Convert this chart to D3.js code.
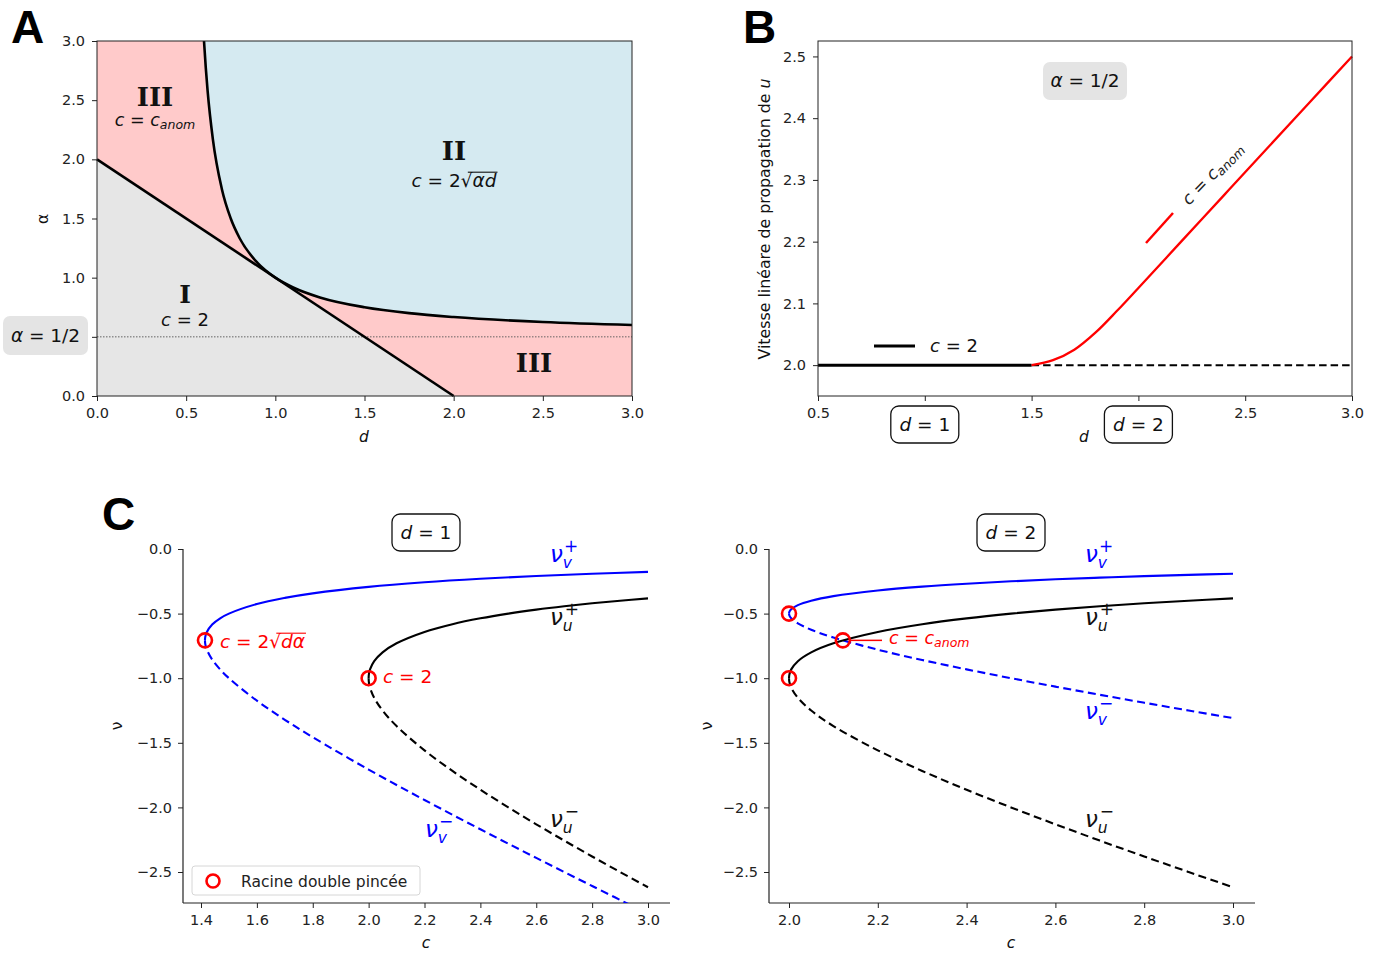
<!DOCTYPE html>
<html><head><meta charset="utf-8">
<script src="https://cdn.jsdelivr.net/npm/d3@7"></script>
<style>
body{margin:0;background:#fff}
svg text{white-space:pre}
</style>
</head><body>
<svg id="fig" width="1380" height="953" font-family="DejaVu Sans"></svg>
<script>
// ---------------- DATA ----------------
// Panel A : phase diagram (d, alpha)
const axisATicks = [0, 0.5, 1.0, 1.5, 2.0, 2.5, 3.0];
const axisAYLabels = ["0.0", "", "1.0", "1.5", "2.0", "2.5", "3.0"];
const lineBoundaryD = [0, 2];
const lineBoundaryAlpha = [2, 0];
const hyperD = [0.6, 0.61, 0.62, 0.65, 0.7, 0.75, 0.8, 0.9, 1.0, 1.1, 1.25, 1.5, 1.75, 2.0, 2.5, 3.0];
const hyperAlpha = [3.0, 2.773, 2.583, 2.167, 1.75, 1.5, 1.333, 1.125, 1.0, 0.917, 0.833, 0.75, 0.7, 0.667, 0.625, 0.6];
const alphaRef = 0.5;

// Panel B : linear spreading speed vs d
const bXTicks = [0.5, 1.0, 1.5, 2.0, 2.5, 3.0];
const bXTickLabels = ["0.5", "", "1.5", "", "2.5", "3.0"];
const bYTicks = [2.0, 2.1, 2.2, 2.3, 2.4, 2.5];
const cTwoSolidD = [0.5, 1.5];
const cTwoDashedD = [1.5, 3.0];
const cTwoValue = 2.0;
const canomD = [1.5, 1.6, 1.7, 1.8, 1.9, 2.0, 2.2, 2.4, 2.6, 2.8, 3.0];
const canomC = [2.0, 2.008, 2.025, 2.053, 2.088, 2.125, 2.2, 2.275, 2.35, 2.425, 2.5];

// Panel C : roots nu vs c
const cLeftTicks = [1.4, 1.6, 1.8, 2.0, 2.2, 2.4, 2.6, 2.8, 3.0];
const cRightTicks = [2.0, 2.2, 2.4, 2.6, 2.8, 3.0];
const nuTicks = [0.0, -0.5, -1.0, -1.5, -2.0, -2.5];
const cU = [2.0, 2.001, 2.005, 2.02, 2.05, 2.1, 2.2, 2.3, 2.4, 2.5, 2.6, 2.7, 2.8, 2.9, 3.0];
const nuUPlus  = [-1.0, -0.9689, -0.9318, -0.8682, -0.8, -0.7298, -0.6417, -0.5821, -0.5367, -0.5, -0.4693, -0.4431, -0.4202, -0.4, -0.382];
const nuUMinus = [-1.0, -1.0321, -1.0733, -1.1518, -1.25, -1.3702, -1.5583, -1.7179, -1.8633, -2.0, -2.1307, -2.2569, -2.3798, -2.5, -2.618];
const cV1 = [1.4142, 1.4152, 1.42, 1.44, 1.47, 1.5, 1.6, 1.7, 1.8, 2.0, 2.2, 2.4, 2.6, 2.8, 3.0];
const nuV1Plus  = [-0.7071, -0.6812, -0.646, -0.5844, -0.5345, -0.5, -0.4258, -0.3783, -0.3432, -0.2929, -0.2574, -0.2305, -0.2091, -0.1917, -0.1771];
const nuV1Minus = [-0.7071, -0.734, -0.7741, -0.8557, -0.9356, -1.0, -1.1742, -1.3217, -1.4568, -1.7071, -1.9426, -2.1695, -2.3909, -2.6083, -2.8229];
const nuV2Plus  = [-0.5, -0.4845, -0.4659, -0.4341, -0.4, -0.3649, -0.3209, -0.2911, -0.2684, -0.25, -0.2347, -0.2216, -0.2101, -0.2, -0.191];
const nuV2Minus = [-0.5, -0.5161, -0.5367, -0.5759, -0.625, -0.6851, -0.7792, -0.859, -0.9317, -1.0, -1.0654, -1.1285, -1.1899, -1.25, -1.309];
const pinchLeftC = [1.4142, 2.0];
const pinchLeftNu = [-0.7071, -1.0];
const pinchRightC = [2.0, 2.0, 2.1213];
const pinchRightNu = [-0.5, -1.0, -0.7071];

// ---------------- HELPERS ----------------
const svg = d3.select("#fig");
const zip = (a, b) => a.map((v, i) => [v, b[i]]);

function rich(parent, x, y, parts, o = {}) {
  const t = parent.append("text").attr("x", x).attr("y", y)
    .attr("font-size", o.size || 16).attr("fill", o.fill || "#111")
    .attr("text-anchor", o.anchor || "start")
    .style("font-family", o.family || "'DejaVu Sans', sans-serif");
  if (o.weight) t.style("font-weight", o.weight);
  if (o.rotate != null) t.attr("transform", `rotate(${o.rotate},${x},${y})`);
  let idx = 0; const ov = [];
  parts.forEach(p => {
    const s = t.append("tspan").text(p.t);
    if (p.i) s.style("font-style", "italic");
    if (p.s) s.attr("font-size", p.s);
    if (p.dx != null) s.attr("dx", p.dx);
    if (p.dy != null) s.attr("dy", p.dy);
    if (p.ov) ov.push([idx, idx + p.t.length - 1]);
    idx += p.t.length;
  });
  ov.forEach(([a, b]) => {
    const n = t.node();
    const x0 = n.getStartPositionOfChar(a - 1).x + 0.6 * (n.getEndPositionOfChar(a - 1).x - n.getStartPositionOfChar(a - 1).x);
    const x1 = n.getEndPositionOfChar(b).x + 1;
    const sz = o.size || 16;
    parent.append("line").attr("x1", x0).attr("x2", x1)
      .attr("y1", y - 0.8 * sz).attr("y2", y - 0.8 * sz)
      .attr("stroke", o.fill || "#111").attr("stroke-width", 1.1);
  });
  return t;
}

function styleAxis(g, fs) {
  g.selectAll(".domain").remove();
  g.selectAll(".tick line").attr("stroke", "#222").attr("stroke-width", 1);
  g.selectAll(".tick text").attr("font-size", fs || 14.5).attr("fill", "#222")
    .style("font-family", "'DejaVu Sans', sans-serif");
}

function nuLabel(parent, x, y, sub, sup, color) {
  rich(parent, x, y, [
    { t: "ν", i: 1 },
    { t: sub, i: 1, s: 15.5, dy: 6 },
    { t: sup, s: 17, dx: -8, dy: -16 }
  ], { size: 23, fill: color });
}

// ---------------- PANEL A ----------------
const xA = d3.scaleLinear().domain([0, 3]).range([97, 632]);
const yA = d3.scaleLinear().domain([0, 3]).range([396, 41]);
const gA = svg.append("g");
const lineA = d3.line().x(d => xA(d[0])).y(d => yA(d[1]));

gA.append("rect").attr("x", xA(0)).attr("y", yA(3)).attr("width", xA(3) - xA(0)).attr("height", yA(0) - yA(3))
  .attr("fill", "#ffcaca");
const hyperPts = zip(hyperD, hyperAlpha);
gA.append("path").attr("d", d3.line().x(d => xA(d[0])).y(d => yA(d[1])).curve(d3.curveMonotoneX)([...hyperPts, [3, 3]]) + `L${xA(hyperD[0])},${yA(3)}Z`)
  .attr("fill", "#d5eaf1");
gA.append("path").attr("d", lineA([...zip(lineBoundaryD, lineBoundaryAlpha), [0, 0]]) + "Z")
  .attr("fill", "#e6e6e6");
gA.append("line").attr("x1", xA(0)).attr("x2", xA(3)).attr("y1", yA(alphaRef)).attr("y2", yA(alphaRef))
  .attr("stroke", "#555").attr("stroke-width", 0.9).attr("stroke-dasharray", "1.5,1.5");
gA.append("path").attr("d", lineA(zip(lineBoundaryD, lineBoundaryAlpha)))
  .attr("fill", "none").attr("stroke", "#000").attr("stroke-width", 2.6);
gA.append("path").attr("d", d3.line().x(d => xA(d[0])).y(d => yA(d[1])).curve(d3.curveMonotoneX)(hyperPts))
  .attr("fill", "none").attr("stroke", "#000").attr("stroke-width", 2.6);
gA.append("rect").attr("x", xA(0)).attr("y", yA(3)).attr("width", xA(3) - xA(0)).attr("height", yA(0) - yA(3))
  .attr("fill", "none").attr("stroke", "#222").attr("stroke-width", 1);

styleAxis(gA.append("g").attr("transform", `translate(0,${yA(0)})`)
  .call(d3.axisBottom(xA).tickValues(axisATicks).tickFormat(d3.format(".1f")).tickSize(5).tickPadding(7)));
styleAxis(gA.append("g").attr("transform", `translate(${xA(0)},0)`)
  .call(d3.axisLeft(yA).tickValues(axisATicks).tickFormat((d, i) => axisAYLabels[i]).tickSize(5).tickPadding(7)));

rich(gA, 364, 442, [{ t: "d", i: 1 }], { size: 15.5, anchor: "middle" });
rich(gA, 48, 219, [{ t: "α" }], { size: 15.5, anchor: "middle", rotate: -90 });

// region labels
const serifB = { size: 26, anchor: "middle", family: "'DejaVu Serif', 'Liberation Serif', serif", weight: "bold", fill: "#111" };
rich(gA, 155, 106, [{ t: "III" }], serifB);
rich(gA, 155, 126, [{ t: "c", i: 1 }, { t: " = " }, { t: "c", i: 1 }, { t: "anom", i: 1, s: 12.5, dy: 3 }], { size: 17.5, anchor: "middle" });
rich(gA, 454, 160, [{ t: "II" }], serifB);
rich(gA, 454, 187, [{ t: "c", i: 1 }, { t: " = 2" }, { t: "√" }, { t: "αd", i: 1, ov: 1 }], { size: 18.5, anchor: "middle" });
rich(gA, 185, 303, [{ t: "I" }], { ...serifB, size: 25 });
rich(gA, 185, 326, [{ t: "c", i: 1 }, { t: " = 2" }], { size: 18, anchor: "middle" });
rich(gA, 534, 372, [{ t: "III" }], serifB);

gA.append("rect").attr("x", 3).attr("y", 316).attr("width", 85).attr("height", 39).attr("rx", 7).attr("fill", "#e4e4e4");
rich(gA, 45.5, 342, [{ t: "α", i: 1 }, { t: " = 1/2" }], { size: 18.5, anchor: "middle" });

// ---------------- PANEL B ----------------
const xB = d3.scaleLinear().domain([0.5, 3]).range([818, 1352]);
const yB = d3.scaleLinear().domain([1.95, 2.525]).range([396, 41]);
const gB = svg.append("g");
const lineB = d3.line().x(d => xB(d[0])).y(d => yB(d[1]));

gB.append("path").attr("d", lineB(cTwoDashedD.map(d => [d, cTwoValue])))
  .attr("fill", "none").attr("stroke", "#000").attr("stroke-width", 2).attr("stroke-dasharray", "7.5,4");
gB.append("path").attr("d", lineB(cTwoSolidD.map(d => [d, cTwoValue])))
  .attr("fill", "none").attr("stroke", "#000").attr("stroke-width", 3);
gB.append("path").attr("d", d3.line().x(d => xB(d[0])).y(d => yB(d[1])).curve(d3.curveCatmullRom.alpha(0.5))(zip(canomD, canomC)))
  .attr("fill", "none").attr("stroke", "#ff0000").attr("stroke-width", 2.3);
gB.append("rect").attr("x", xB(0.5)).attr("y", 41).attr("width", xB(3) - xB(0.5)).attr("height", 355)
  .attr("fill", "none").attr("stroke", "#222").attr("stroke-width", 1);

styleAxis(gB.append("g").attr("transform", `translate(0,396)`)
  .call(d3.axisBottom(xB).tickValues(bXTicks).tickFormat((d, i) => bXTickLabels[i]).tickSize(5).tickPadding(7)));
styleAxis(gB.append("g").attr("transform", `translate(${xB(0.5)},0)`)
  .call(d3.axisLeft(yB).tickValues(bYTicks).tickFormat(d3.format(".1f")).tickSize(5).tickPadding(7)));

rich(gB, 1084, 442, [{ t: "d", i: 1 }], { size: 15.5, anchor: "middle" });
rich(gB, 770, 219, [{ t: "Vitesse linéare de propagation de " }, { t: "u", i: 1 }], { size: 15.8, anchor: "middle", rotate: -90 });

// legend-like annotations
gB.append("line").attr("x1", 874).attr("x2", 915).attr("y1", 346).attr("y2", 346).attr("stroke", "#000").attr("stroke-width", 3);
rich(gB, 930, 352, [{ t: "c", i: 1 }, { t: " = 2" }], { size: 18 });
gB.append("line").attr("x1", 1146).attr("x2", 1173).attr("y1", 243).attr("y2", 213).attr("stroke", "#ff0000").attr("stroke-width", 2.5);
rich(gB, 1189, 206, [{ t: "c", i: 1 }, { t: " = " }, { t: "c", i: 1 }, { t: "anom", i: 1, s: 12.5, dy: 3 }], { size: 17, rotate: -46, fill: "#222" });

gB.append("rect").attr("x", 1043).attr("y", 62).attr("width", 84).attr("height", 38).attr("rx", 7).attr("fill", "#e4e4e4");
rich(gB, 1085, 87, [{ t: "α", i: 1 }, { t: " = 1/2" }], { size: 18.5, anchor: "middle" });

function dBox(parent, cx, cy, label) {
  parent.append("rect").attr("x", cx - 34).attr("y", cy - 18).attr("width", 68).attr("height", 37).attr("rx", 8)
    .attr("fill", "#fff").attr("stroke", "#111").attr("stroke-width", 1.3);
  rich(parent, cx, cy + 6.5, [{ t: "d", i: 1 }, { t: " = " + label }], { size: 18.5, anchor: "middle" });
}
dBox(gB, xB(1.0), 424, "1");
dBox(gB, xB(2.0), 424, "2");

// ---------------- PANEL C ----------------
const yC = d3.scaleLinear().domain([0, -2.5]).range([549, 872]);
function panelC(xs, ticks, left, right, id) {
  const g = svg.append("g");
  const bottom = 903;
  g.append("clipPath").attr("id", id).append("rect").attr("x", left).attr("y", 530).attr("width", right - left).attr("height", bottom - 530);
  g.append("line").attr("x1", left).attr("x2", left).attr("y1", yC(0)).attr("y2", bottom).attr("stroke", "#222").attr("stroke-width", 1.2);
  g.append("line").attr("x1", left).attr("x2", right).attr("y1", bottom).attr("y2", bottom).attr("stroke", "#222").attr("stroke-width", 1.2);
  styleAxis(g.append("g").attr("transform", `translate(0,${bottom})`)
    .call(d3.axisBottom(xs).tickValues(ticks).tickFormat(d3.format(".1f")).tickSize(5).tickPadding(7)));
  styleAxis(g.append("g").attr("transform", `translate(${left},0)`)
    .call(d3.axisLeft(yC).tickValues(nuTicks).tickFormat(d3.format(".1f")).tickSize(5).tickPadding(6)));
  const plot = g.append("g").attr("clip-path", `url(#${id})`);
  const ln = d3.line().x(d => xs(d[0])).y(d => yC(d[1])).curve(d3.curveCatmullRom.alpha(0.5));
  return { g, plot, ln };
}
function drawCurve(p, xsArr, ysArr, color, dashed) {
  p.plot.append("path").attr("d", p.ln(zip(xsArr, ysArr))).attr("fill", "none")
    .attr("stroke", color).attr("stroke-width", 2.1).attr("stroke-dasharray", dashed ? "8,4.5" : null);
}
function pinch(p, xs, cs, nus) {
  cs.forEach((c, i) => p.g.append("circle").attr("cx", xs(c)).attr("cy", yC(nus[i])).attr("r", 7)
    .attr("fill", "none").attr("stroke", "#ff0000").attr("stroke-width", 2.6));
}

// left (d = 1)
const xC1 = d3.scaleLinear().domain([1.4, 3.0]).range([201, 648]);
const pL = panelC(xC1, cLeftTicks, 183, 670, "clipL");
drawCurve(pL, cV1, nuV1Minus, "#0000ff", true);
drawCurve(pL, cU, nuUMinus, "#000", true);
drawCurve(pL, cV1, nuV1Plus, "#0000ff", false);
drawCurve(pL, cU, nuUPlus, "#000", false);
pinch(pL, xC1, pinchLeftC, pinchLeftNu);
rich(pL.g, 220, 648, [{ t: "c", i: 1 }, { t: " = 2" }, { t: "√" }, { t: "dα", i: 1, ov: 1 }], { size: 18.5, fill: "#ff0000" });
rich(pL.g, 383, 683, [{ t: "c", i: 1 }, { t: " = 2" }], { size: 18.5, fill: "#ff0000" });
nuLabel(pL.g, 550, 562, "v", "+", "#0000ff");
nuLabel(pL.g, 550, 625, "u", "+", "#111");
nuLabel(pL.g, 550, 827, "u", "−", "#111");
nuLabel(pL.g, 425, 837, "v", "−", "#0000ff");
rich(pL.g, 122, 726, [{ t: "ν" }], { size: 15.5, anchor: "middle", rotate: -90 });
rich(pL.g, 426, 948, [{ t: "c", i: 1 }], { size: 15.5, anchor: "middle" });
pL.g.append("rect").attr("x", 192).attr("y", 866).attr("width", 228).attr("height", 29).attr("rx", 3)
  .attr("fill", "#fff").attr("fill-opacity", 0.85).attr("stroke", "#d6d6d6").attr("stroke-width", 1);
pL.g.append("circle").attr("cx", 213).attr("cy", 881).attr("r", 6.5).attr("fill", "none").attr("stroke", "#ff0000").attr("stroke-width", 2.6);
rich(pL.g, 241, 886.5, [{ t: "Racine double pincée" }], { size: 15.5, fill: "#222" });
dBox(pL.g, 426, 532, "1");

// right (d = 2)
const xC2 = d3.scaleLinear().domain([2.0, 3.0]).range([789, 1233]);
const pR = panelC(xC2, cRightTicks, 769, 1255, "clipR");
drawCurve(pR, cU, nuV2Minus, "#0000ff", true);
drawCurve(pR, cU, nuUMinus, "#000", true);
drawCurve(pR, cU, nuV2Plus, "#0000ff", false);
drawCurve(pR, cU, nuUPlus, "#000", false);
pinch(pR, xC2, pinchRightC, pinchRightNu);
pR.g.append("line").attr("x1", xC2(pinchRightC[2]) + 8).attr("x2", 882).attr("y1", yC(pinchRightNu[2])).attr("y2", yC(pinchRightNu[2]))
  .attr("stroke", "#ff0000").attr("stroke-width", 1.5);
rich(pR.g, 889, 644, [{ t: "c", i: 1 }, { t: " = " }, { t: "c", i: 1 }, { t: "anom", i: 1, s: 12.5, dy: 3 }], { size: 17.5, fill: "#ff0000" });
nuLabel(pR.g, 1085, 562, "v", "+", "#0000ff");
nuLabel(pR.g, 1085, 625, "u", "+", "#111");
nuLabel(pR.g, 1085, 719, "v", "−", "#0000ff");
nuLabel(pR.g, 1085, 827, "u", "−", "#111");
rich(pR.g, 712, 726, [{ t: "ν" }], { size: 15.5, anchor: "middle", rotate: -90 });
rich(pR.g, 1011, 948, [{ t: "c", i: 1 }], { size: 15.5, anchor: "middle" });
dBox(pR.g, 1011, 532, "2");

// panel letters
const letter = { size: 46, family: "'Liberation Sans', Arial, sans-serif", weight: "bold", fill: "#000" };
rich(svg, 11, 43, [{ t: "A" }], letter);
rich(svg, 743, 43, [{ t: "B" }], letter);
rich(svg, 102, 530, [{ t: "C" }], letter);
</script>
</body></html>
